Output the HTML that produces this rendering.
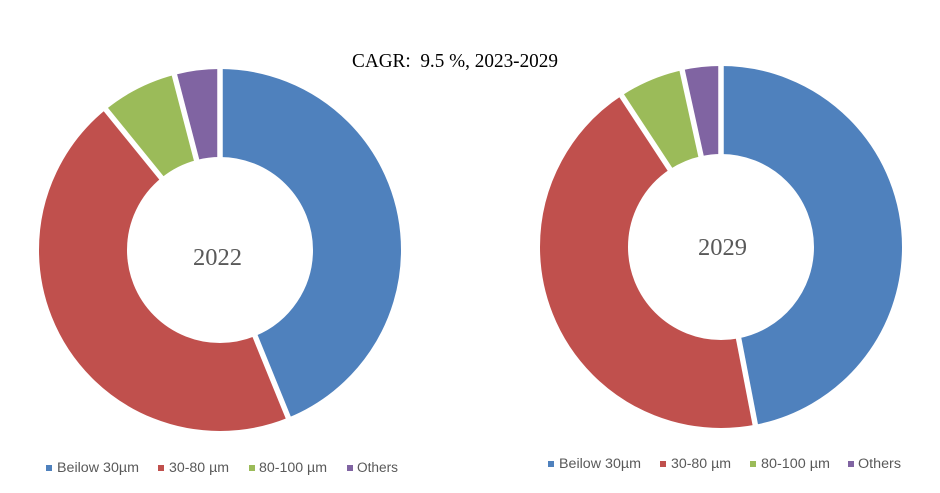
<!DOCTYPE html>
<html>
<head>
<meta charset="utf-8">
<style>
  html,body{margin:0;padding:0;background:#fff;}
  svg{display:block;}
  .lg{font-family:"Liberation Sans",Arial,sans-serif;font-size:13.5px;fill:#595959;}
  .ctr{font-family:"Liberation Serif",serif;font-size:24px;fill:#595959;}
</style>
</head>
<body>
<svg width="940" height="493" viewBox="0 0 940 493" xmlns="http://www.w3.org/2000/svg">
  <rect width="940" height="493" fill="#ffffff"/>

  <!-- Title -->
  <text x="352" y="67" font-family="Liberation Serif, serif" font-size="20" fill="#000" textLength="206" lengthAdjust="spacingAndGlyphs">CAGR:&#160; 9.5 %, 2023-2029</text>

  <!-- Left donut (2022) -->
  <g transform="rotate(-90 220 250)" fill="none" stroke-width="88">
    <circle cx="220" cy="250" r="137" stroke="#4F81BD" stroke-dasharray="377.3 860.8" stroke-dashoffset="0"/>
    <circle cx="220" cy="250" r="137" stroke="#C0504D" stroke-dasharray="390.0 860.8" stroke-dashoffset="-377.3"/>
    <circle cx="220" cy="250" r="137" stroke="#9BBB59" stroke-dasharray="58.6 860.8" stroke-dashoffset="-767.3"/>
    <circle cx="220" cy="250" r="137" stroke="#8064A2" stroke-dasharray="34.9 860.8" stroke-dashoffset="-825.9"/>
  </g>
  <g stroke="#fff" stroke-width="5.5">
    <line x1="220" y1="250" x2="220" y2="62"/>
    <line x1="220" y1="250" x2="290.9" y2="424"/>
    <line x1="220" y1="250" x2="102" y2="104.8"/>
    <line x1="220" y1="250" x2="172.6" y2="67.9"/>
  </g>
  <text class="ctr" x="193" y="265" textLength="49" lengthAdjust="spacingAndGlyphs">2022</text>

  <!-- Right donut (2029) -->
  <g transform="rotate(-90 721 247)" fill="none" stroke-width="88">
    <circle cx="721" cy="247" r="137" stroke="#4F81BD" stroke-dasharray="404.3 860.8" stroke-dashoffset="0"/>
    <circle cx="721" cy="247" r="137" stroke="#C0504D" stroke-dasharray="376.8 860.8" stroke-dashoffset="-404.3"/>
    <circle cx="721" cy="247" r="137" stroke="#9BBB59" stroke-dasharray="50.0 860.8" stroke-dashoffset="-781.2"/>
    <circle cx="721" cy="247" r="137" stroke="#8064A2" stroke-dasharray="29.6 860.8" stroke-dashoffset="-831.1"/>
  </g>
  <g stroke="#fff" stroke-width="5.5">
    <line x1="721" y1="247" x2="721" y2="59"/>
    <line x1="721" y1="247" x2="756.6" y2="431.6"/>
    <line x1="721" y1="247" x2="617.8" y2="89.9"/>
    <line x1="721" y1="247" x2="680.6" y2="63.3"/>
  </g>
  <text class="ctr" x="698" y="255" textLength="49" lengthAdjust="spacingAndGlyphs">2029</text>

  <!-- Left legend -->
  <rect x="46" y="465" width="6" height="6" fill="#4F81BD"/>
  <text class="lg" x="57" y="472" textLength="82" lengthAdjust="spacingAndGlyphs">Beilow 30µm</text>
  <rect x="158" y="465" width="6" height="6" fill="#C0504D"/>
  <text class="lg" x="169" y="472" textLength="60" lengthAdjust="spacingAndGlyphs">30-80 µm</text>
  <rect x="249" y="465" width="6" height="6" fill="#9BBB59"/>
  <text class="lg" x="259" y="472" textLength="68" lengthAdjust="spacingAndGlyphs">80-100 µm</text>
  <rect x="347" y="465" width="6" height="6" fill="#8064A2"/>
  <text class="lg" x="357" y="472" textLength="41" lengthAdjust="spacingAndGlyphs">Others</text>

  <!-- Right legend -->
  <rect x="548" y="461" width="6" height="6" fill="#4F81BD"/>
  <text class="lg" x="559" y="468" textLength="82" lengthAdjust="spacingAndGlyphs">Beilow 30µm</text>
  <rect x="660" y="461" width="6" height="6" fill="#C0504D"/>
  <text class="lg" x="671" y="468" textLength="60" lengthAdjust="spacingAndGlyphs">30-80 µm</text>
  <rect x="750" y="461" width="6" height="6" fill="#9BBB59"/>
  <text class="lg" x="761" y="468" textLength="69" lengthAdjust="spacingAndGlyphs">80-100 µm</text>
  <rect x="848" y="461" width="6" height="6" fill="#8064A2"/>
  <text class="lg" x="858" y="468" textLength="43" lengthAdjust="spacingAndGlyphs">Others</text>
</svg>
</body>
</html>
